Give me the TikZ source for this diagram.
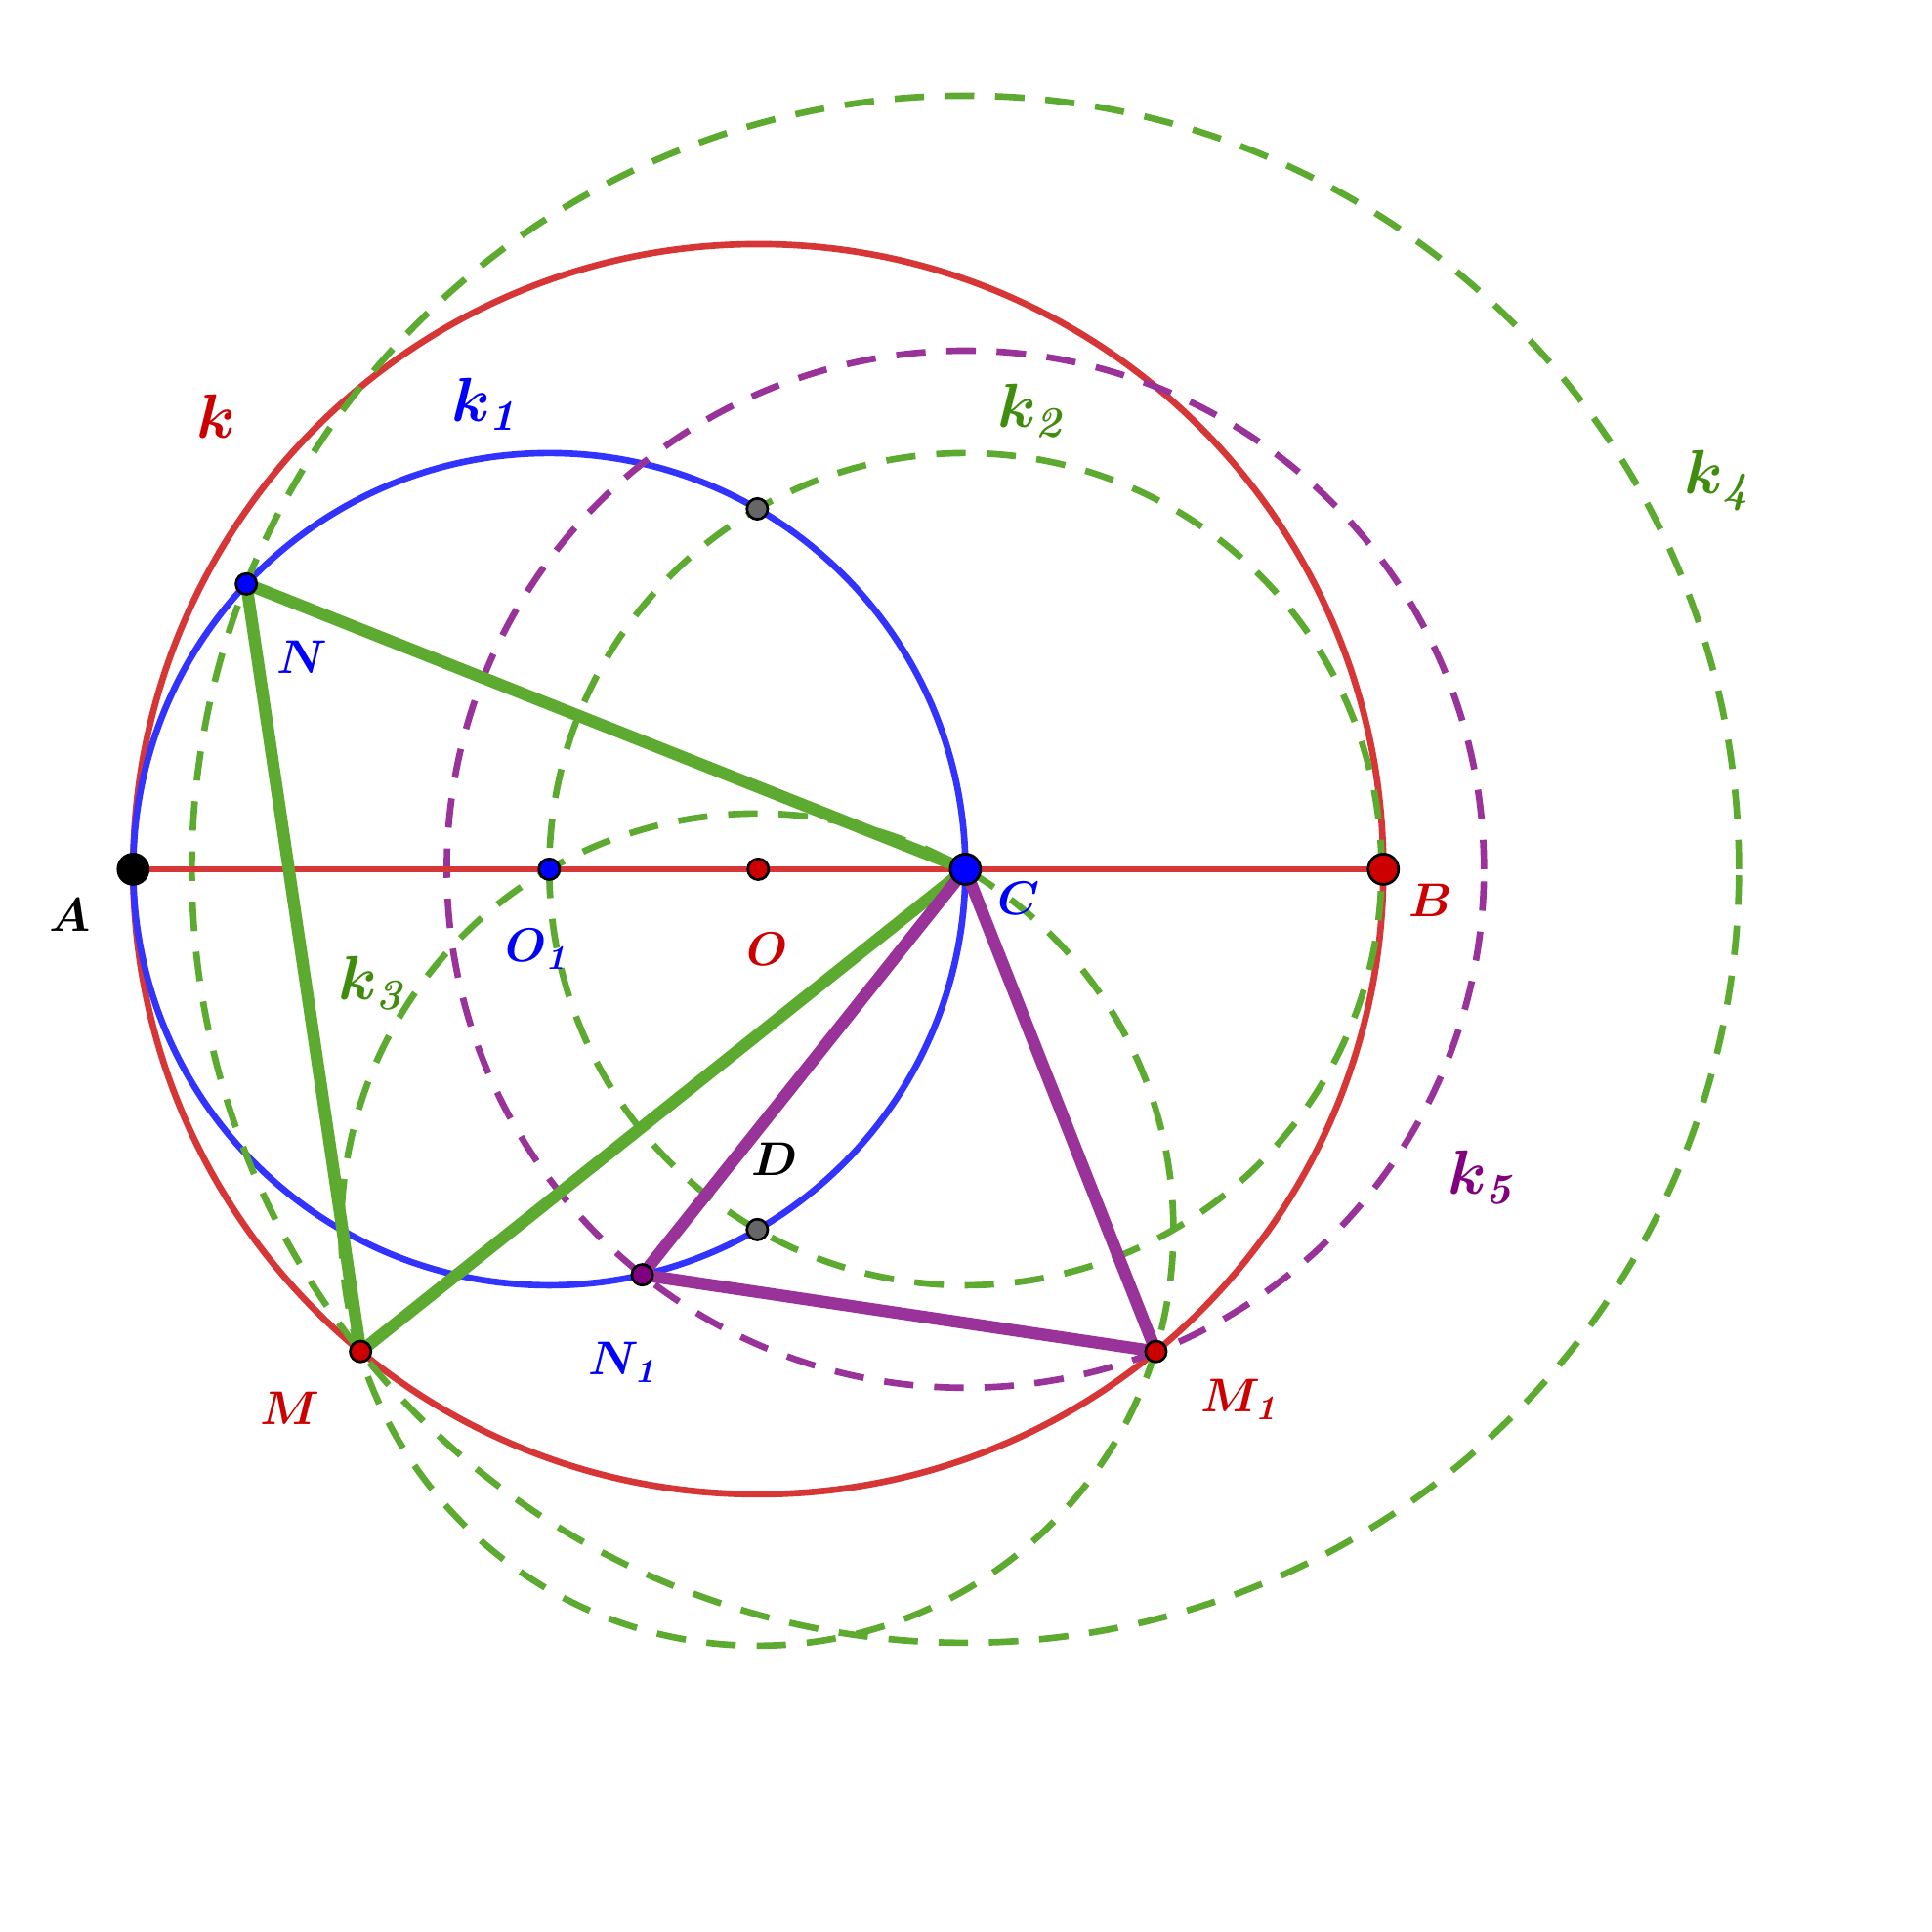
\documentclass[tikz,border=0pt]{standalone}
\usepackage{amssymb,amsmath}
\usepackage{tikz}
\definecolor{kred}{rgb}{0.84,0.21,0.21}
\definecolor{pred}{rgb}{0.8,0,0}
\definecolor{kblue}{rgb}{0.2,0.2,1}
\definecolor{pblue}{rgb}{0,0,1}
\definecolor{kgreen}{rgb}{0.36,0.67,0.19}
\definecolor{lgreen}{rgb}{0.25,0.55,0.05}
\definecolor{kpurple}{rgb}{0.6,0.2,0.6}
\definecolor{lpurple}{rgb}{0.5,0,0.5}
\definecolor{DGray}{rgb}{0.4,0.4,0.4}

\begin{document}
\begin{tikzpicture}[
  circ/.style={line width=1.5pt},
  dsh/.style={line width=1.5pt, dash pattern=on 6.8pt off 4.8pt},
  seg/.style={line width=2.8pt},
  pt/.style={circle, draw=black, line width=0.6pt, inner sep=0pt, minimum size=4.8pt},
  bigpt/.style={pt, minimum size=7pt},
  lbl/.style={font=\Large\boldmath},
  plbl/.style={font=\fontsize{11.2}{13.5}\selectfont\boldmath}]
\useasboundingbox (-6.15,-8.62) rectangle (9.52,7.05);

% points of the construction
\coordinate (O) at (0,0);
\coordinate (A) at (-5.07,0);
\coordinate (B) at (5.07,0);
\coordinate (C) at (1.68,0);
\coordinate (O1) at (-1.695,0);
\coordinate (D) at (-0.0075,-2.9228);
\coordinate (E) at (-0.0075,2.9228);
\coordinate (M) at (-3.2256,-3.9116);
\coordinate (M1) at (3.2256,-3.9116);
\coordinate (N) at (-4.1519,2.3140);
\coordinate (N1) at (-0.9407,-3.2896);

% circles
\draw[circ, kred] (O) circle (5.07);
\draw[circ, kblue] (O1) circle (3.375);
\draw[dsh, kgreen] (C) circle (3.375);
\draw[dsh, kgreen] (D) circle (3.375);
\draw[dsh, kgreen] (C) circle (6.2742);
\draw[dsh, kpurple] (C) circle (4.2059);
\draw[circ, kred] (A) -- (B);

% triangles
\draw[seg, kgreen] (N) -- (C) -- (M) -- cycle;
\draw[seg, kpurple, line join=round] (C) -- (N1) -- (M1) -- cycle;

% dots
\node[bigpt, fill=black] (pA) at (A) {};
\node[bigpt, fill=pred] (pB) at (B) {};
\node[bigpt, fill=pblue] (pC) at (C) {};
\node[pt, fill=pblue] (pO1) at (O1) {};
\node[pt, fill=pred] (pO) at (O) {};
\node[pt, fill=pblue] (pN) at (N) {};
\node[pt, fill=pred] (pM) at (M) {};
\node[pt, fill=pred] (pM1) at (M1) {};
\node[pt, fill=lpurple] (pN1) at (N1) {};
\node[pt, fill=DGray] (pD) at (D) {};
\node[pt, fill=DGray] (pE) at (E) {};

% labels
\node[lbl, text=pred] (lk) at (-4.40,3.67) {$k$};
\node[lbl, text=pblue] (lk1) at (-2.20,3.77) {$k_{\mathit{1}}$};
\node[lbl, text=lgreen] (lk2) at (2.23,3.72) {$k_{\mathit{2}}$};
\node[lbl, text=lgreen] (lk3) at (-3.12,-0.92) {$k_{\mathit{3}}$};
\node[lbl, text=lgreen] (lk4) at (7.80,3.15) {$k_{\mathit{4}}$};
\node[lbl, text=lpurple] (lk5) at (5.88,-2.50) {$k_{\mathit{5}}$};
\node[plbl, text=black] (lA) at (-5.58,-0.37) {$A$};
\node[plbl, text=pred] (lB) at (5.45,-0.25) {$B$};
\node[plbl, text=pblue] (lC) at (2.11,-0.24) {$C$};
\node[plbl, text=black] (lD) at (0.13,-2.35) {$D$};
\node[plbl, text=pred] (lO) at (0.07,-0.65) {$O$};
\node[plbl, text=pblue] (lO1) at (-1.78,-0.65) {$O_{\mathit{1}}$};
\node[plbl, text=pblue] (lN) at (-3.70,1.72) {$N$};
\node[plbl, text=pblue] (lN1) at (-1.08,-4.00) {$N_{\mathit{1}}$};
\node[plbl, text=pred] (lM) at (-3.80,-4.37) {$M$};
\node[plbl, text=pred] (lM1) at (3.92,-4.30) {$M_{\mathit{1}}$};
\end{tikzpicture}
\end{document}
